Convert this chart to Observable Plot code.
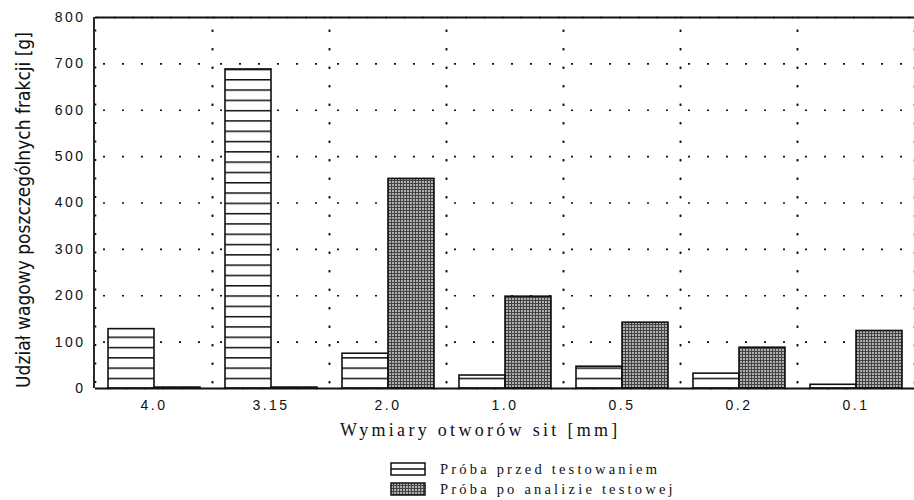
<!DOCTYPE html>
<html>
<head>
<meta charset="utf-8">
<script src="https://cdn.jsdelivr.net/npm/d3@7"></script>
<script src="https://cdn.jsdelivr.net/npm/@observablehq/plot@0.6"></script>
<style>
  body { margin: 0; background: #fff; width: 914px; height: 500px; position: relative; overflow: hidden; }
  #chart { position: absolute; left: 0; top: 0; }
  .ylab { position: absolute; left: 23px; top: 210px; transform: translate(-50%, -50%) rotate(-90deg);
          font-family: "Liberation Sans Narrow", "DejaVu Sans Condensed", "Liberation Sans", Arial, sans-serif;
          font-size: 19px; white-space: nowrap; color: #111; }
  .xlab { position: absolute; left: 340px; top: 420px; font-family: "Liberation Serif", "Times New Roman", serif;
          font-size: 18px; letter-spacing: 3.3px; white-space: nowrap; color: #111; }
  .legend { position: absolute; left: 390px; top: 459px; font-family: "Liberation Serif", "Times New Roman", serif;
          font-size: 14.5px; letter-spacing: 3.2px; color: #111; }
  .legend div { display: flex; align-items: center; height: 20px; }
  .legend svg { margin-right: 14px; }
</style>
</head>
<body>
<svg width="0" height="0" style="position:absolute">
  <defs>
    <pattern id="hlines" patternUnits="userSpaceOnUse" width="8" height="10.3" y="388">
      <rect width="8" height="10.3" fill="#fff"/>
      <line x1="0" x2="8" y1="0.75" y2="0.75" stroke="#111" stroke-width="1.5"/>
    </pattern>
    <pattern id="mesh" patternUnits="userSpaceOnUse" width="3" height="3">
      <rect width="3" height="3" fill="#b0b0b0"/>
      <line x1="0" x2="3" y1="0.5" y2="0.5" stroke="#444" stroke-width="1"/>
      <line x1="0.5" x2="0.5" y1="0" y2="3" stroke="#444" stroke-width="1"/>
    </pattern>
  </defs>
</svg>
<div id="chart"></div>
<div class="ylab">Udział wagowy poszczególnych frakcji [g]</div>
<div class="xlab">Wymiary otworów sit [mm]</div>
<div class="legend">
  <div><svg width="36" height="14"><rect x="1" y="1" width="34" height="12" fill="#fff" stroke="#111" stroke-width="1.5"/><line x1="1" x2="35" y1="7" y2="7" stroke="#111" stroke-width="1.5"/></svg>Próba przed testowaniem</div>
  <div><svg width="36" height="14"><rect x="1" y="1" width="34" height="12" fill="url(#mesh)" stroke="#111" stroke-width="1.5"/></svg>Próba po analizie testowej</div>
</div>
<script>
const sizes = ["4.0", "3.15", "2.0", "1.0", "0.5", "0.2", "0.1"];
const before = [128, 688, 75, 28, 47, 32, 8];
const after = [2, 2, 452, 198, 142, 88, 124];
const seriesNames = ["Próba przed testowaniem", "Próba po analizie testowej"];
const yTicks = [0, 100, 200, 300, 400, 500, 600, 700, 800];

const data = [];
sizes.forEach((s, i) => {
  data.push({size: s, series: seriesNames[0], value: before[i]});
  data.push({size: s, series: seriesNames[1], value: after[i]});
});

const plot = Plot.plot({
  width: 914,
  height: 420,
  marginLeft: 94,
  marginRight: 0,
  marginTop: 17,
  marginBottom: 32,
  style: {fontFamily: "'Liberation Sans', Arial, sans-serif", fontSize: "14px", color: "#111", background: "transparent"},
  fx: {domain: sizes, padding: 0, axis: null},
  x: {domain: seriesNames, paddingInner: 0, paddingOuter: 0.25, axis: null},
  y: {domain: [0, 800], axis: null},
  color: {domain: seriesNames, range: ["url(#hlines)", "url(#mesh)"]},
  marks: [
    Plot.frame({stroke: "#111", strokeWidth: 1.6, strokeDasharray: "2,16.5"}),
    Plot.gridY(yTicks.slice(1, -1), {stroke: "#111", strokeOpacity: 1, strokeWidth: 1.6, strokeDasharray: "2,17", strokeDashoffset: -8}),
    Plot.barY(data, {fx: "size", x: "series", y: "value", fill: "series", stroke: "#111", strokeWidth: 1.6}),
    Plot.ruleY([0, 800], {stroke: "#111", strokeWidth: 1.8}),
    Plot.axisY({ticks: yTicks, tickSize: 0, tickPadding: 10, label: null, fontSize: 14}),
    Plot.axisFx({anchor: "bottom", tickSize: 0, tickPadding: 12, label: null, fontSize: 14})
  ]
});
document.getElementById("chart").appendChild(plot);
d3.select(plot).selectAll("[aria-label='fx-axis tick label']").style("letter-spacing", "2.5px");
d3.select(plot).selectAll("[aria-label='y-axis tick label']").style("letter-spacing", "2.5px");

// solid left axis line, positioned from the plot's own scales
const fxRange = plot.scale("fx").range;
const yRange = plot.scale("y").range;
d3.select(plot).append("line")
  .attr("x1", fxRange[0]).attr("x2", fxRange[0])
  .attr("y1", yRange[0]).attr("y2", yRange[1])
  .attr("stroke", "#111").attr("stroke-width", 1.8);
</script>
</body>
</html>
